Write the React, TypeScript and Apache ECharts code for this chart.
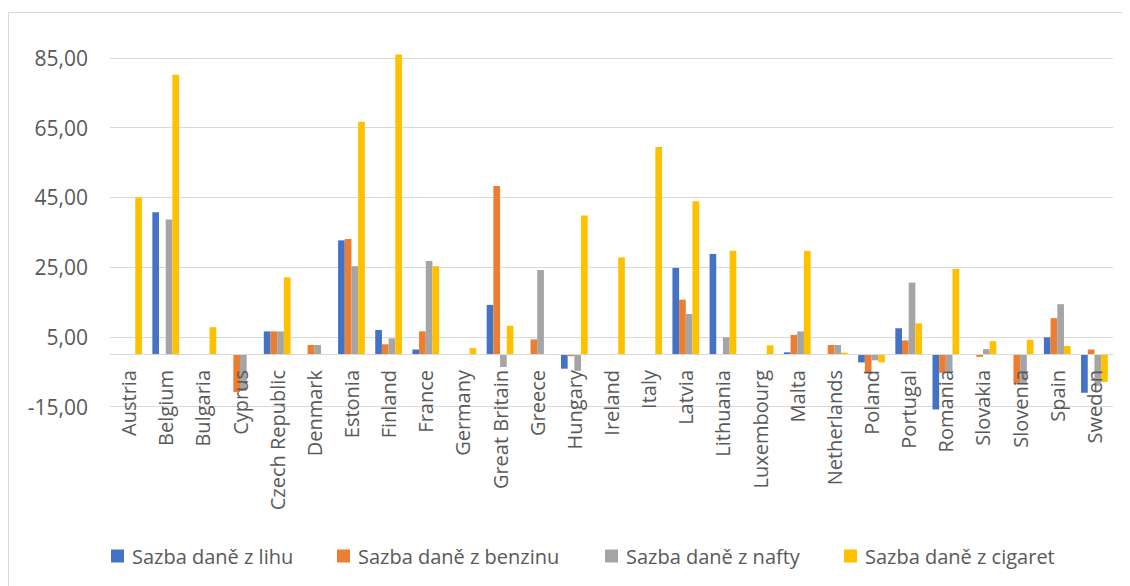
import React, { useEffect, useRef } from "react";
import * as echarts from "echarts";

const categories = [
  "Austria", "Belgium", "Bulgaria", "Cyprus", "Czech Republic", "Denmark", "Estonia",
  "Finland", "France", "Germany", "Great Britain", "Greece", "Hungary", "Ireland", "Italy",
  "Latvia", "Lithuania", "Luxembourg", "Malta", "Netherlands", "Poland", "Portugal",
  "Romania", "Slovakia", "Slovenia", "Spain", "Sweden",
];

const seriesNames = [
  "Sazba daně z lihu",
  "Sazba daně z benzinu",
  "Sazba daně z nafty",
  "Sazba daně z cigaret",
];

const lihu = [0, 40.8, 0, 0, 6.6, 0, 32.7, 7.0, 1.4, 0, 14.2, 0, -4.1, 0, 0, 24.8, 28.8, 0, 0.6, 0, -2.3, 7.5, -15.8, 0, 0, 4.9, -11.0];
const benzinu = [0, 0, 0, -10.8, 6.6, 2.7, 33.1, 2.9, 6.6, 0, 48.3, 4.3, -0.5, 0, 0, 15.7, 0, 0, 5.6, 2.7, -5.5, 4.0, -5.3, -0.7, -8.4, 10.4, 1.4];
const nafty = [0, 38.7, 0, -10.5, 6.6, 2.7, 25.3, 4.6, 26.8, 0, -3.6, 24.2, -4.7, 0, 0, 11.6, 4.9, 0, 6.6, 2.7, -1.7, 20.6, -5.0, 1.5, -8.2, 14.4, -9.0];
const cigaret = [45.0, 80.2, 7.8, 0, 22.1, 0, 66.7, 86.0, 25.3, 1.8, 8.2, 0, 39.8, 27.8, 59.5, 43.9, 29.7, 2.6, 29.7, 0.5, -2.3, 8.9, 24.5, 3.8, 4.2, 2.4, -7.9];

const colors = ["#4472C4", "#ED7D31", "#A5A5A5", "#FFC000"];
const legendLeft = [98, 324, 592, 831];

export default function App() {
  const ref = useRef<HTMLDivElement>(null);
  useEffect(() => {
    const chart = echarts.init(ref.current!, null, { renderer: "svg" });
    const data = [lihu, benzinu, nafty, cigaret];
    chart.setOption({
      animation: false,
      color: colors,
      textStyle: { fontFamily: "Open Sans" },
      graphic: [
        {
          type: "rect",
          shape: { x: 0.5, y: 4.5, width: 1135, height: 600 },
          style: { fill: "none", stroke: "#d9d9d9", lineWidth: 1 },
          silent: true,
        },
      ],
      legend: seriesNames.map((n, i) => ({
        data: [n],
        left: legendLeft[i],
        top: 533,
        icon: "rect",
        itemWidth: 13,
        itemHeight: 13,
        itemGap: 0,
        textStyle: { fontSize: 20, color: "#595959", fontFamily: "Open Sans", padding: [0, 0, 0, 3] },
      })),
      grid: { left: 102, right: 17, top: 50, bottom: 179.3, containLabel: false },
      xAxis: {
        type: "category",
        data: categories,
        z: 10,
        axisLine: { onZero: true, lineStyle: { color: "#d9d9d9", width: 1 } },
        axisTick: { show: false },
        axisLabel: {
          rotate: 90,
          interval: 0,
          margin: -36.7,
          fontSize: 20,
          color: "#595959",
          fontFamily: "Open Sans",
        },
      },
      yAxis: {
        type: "value",
        min: -15,
        max: 85,
        interval: 20,
        axisLine: { show: false },
        axisTick: { show: false },
        splitLine: { lineStyle: { color: "#d9d9d9", width: 1 } },
        axisLabel: {
          margin: 22,
          fontSize: 21,
          color: "#595959",
          fontFamily: "Open Sans",
          formatter: (v: number) => v.toFixed(2).replace(".", ","),
        },
      },
      series: seriesNames.map((n, i) => ({
        name: n,
        type: "bar",
        data: data[i],
        barGap: "0%",
        barCategoryGap: "28%",
        clip: false,
        itemStyle: { color: colors[i] },
      })),
    });
    return () => chart.dispose();
  }, []);
  return <div ref={ref} style={{ width: 1122, height: 578 }} />;
}
